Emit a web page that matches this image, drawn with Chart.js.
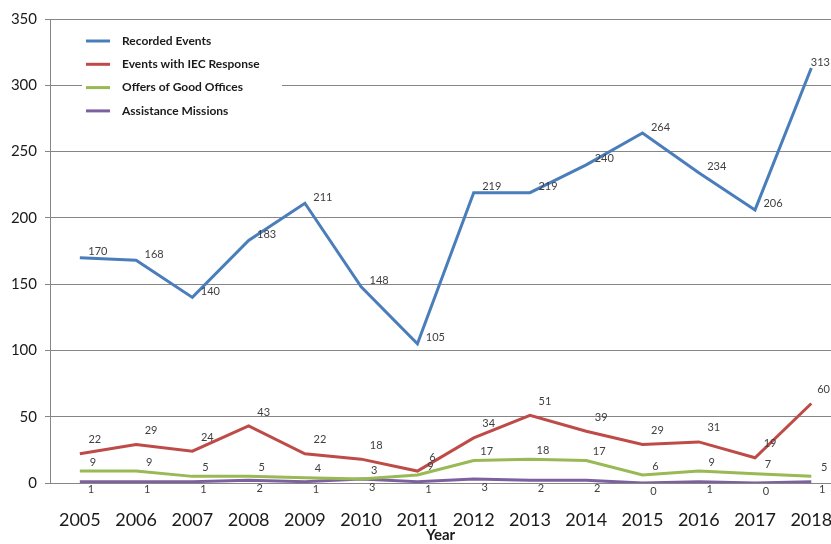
<!DOCTYPE html>
<html>
<head>
<meta charset="utf-8">
<script src="https://cdn.jsdelivr.net/npm/chart.js@4.4.1/dist/chart.umd.min.js"></script>
<style>
  html, body { margin: 0; padding: 0; background: #fff; }
  #wrap { width: 831px; height: 544px; }
</style>
</head>
<body>
<div id="wrap"><canvas id="eventsChart"></canvas></div>
<script>
// Dados do gráfico
const years = [2005, 2006, 2007, 2008, 2009, 2010, 2011, 2012, 2013, 2014, 2015, 2016, 2017, 2018];
const recorded = [170, 168, 140, 183, 211, 148, 105, 219, 219, 240, 264, 234, 206, 313];
const iecResponse = [22, 29, 24, 43, 22, 18, 9, 34, 51, 39, 29, 31, 19, 60];
const goodOffices = [9, 9, 5, 5, 4, 3, 6, 17, 18, 17, 6, 9, 7, 5];
const assistance = [1, 1, 1, 2, 1, 3, 1, 3, 2, 2, 0, 1, 0, 1];
// rótulos impressos (em 2011 o original troca os dois)
const iecLabels = ['22', '29', '24', '43', '22', '18', '6', '34', '51', '39', '29', '31', '19', '60'];
const goodOfficesLabels = ['9', '9', '5', '5', '4', '3', '9', '17', '18', '17', '6', '9', '7', '5'];
const yTicks = [0, 50, 100, 150, 200, 250, 300, 350];

const FONT = 'Lato, "Liberation Sans", sans-serif';

function pts(vals) {
    return vals.map((v, i) => ({ x: years[i], y: v }));
}

// rótulos de valor junto a cada ponto
const valueLabels = {
    id: 'valueLabels',
    afterDatasetsDraw(chart) {
        const c = chart.ctx;
        c.save();
        c.font = '11px ' + FONT;
        c.fillStyle = '#404040';
        c.textAlign = 'center';
        c.textBaseline = 'middle';
        chart.data.datasets.forEach((ds, di) => {
            const meta = chart.getDatasetMeta(di);
            meta.data.forEach((p, i) => {
                const txt = ds.valueText ? ds.valueText[i] : String(ds.data[i].y);
                const w = c.measureText(txt).width;
                // não deixa o texto sair pela direita
                const x = Math.min(p.x + ds.labelDx, chart.width - w / 2 - 1);
                c.fillText(txt, x, p.y + ds.labelDy);
            });
        });
        c.restore();
    }
};

// legenda dentro da área do gráfico, com fundo branco
const boxLegend = {
    id: 'boxLegend',
    afterDraw(chart) {
        const c = chart.ctx;
        c.save();
        c.fillStyle = '#fff';
        c.fillRect(82, 27, 200, 98);
        c.font = 'bold 12px ' + FONT;
        c.textBaseline = 'middle';
        chart.data.datasets.forEach((ds, i) => {
            const y = 41 + i * 23.3;
            c.strokeStyle = ds.borderColor;
            c.lineWidth = 3;
            c.beginPath();
            c.moveTo(86, y);
            c.lineTo(110, y);
            c.stroke();
            c.fillStyle = '#1a1a1a';
            c.fillText(ds.label, 122, y);
        });
        c.restore();
    }
};

const ctx = document.getElementById('eventsChart').getContext('2d');
const eventsChart = new Chart(ctx, {
    type: 'line',
    data: {
        datasets: [{
            label: 'Recorded Events',
            data: pts(recorded),
            borderColor: '#4a7ebb',
            labelDx: 18, labelDy: -6
        }, {
            label: 'Events with IEC Response',
            data: pts(iecResponse),
            borderColor: '#be4b48',
            valueText: iecLabels,
            labelDx: 15, labelDy: -14
        }, {
            label: 'Offers of Good Offices',
            data: pts(goodOffices),
            borderColor: '#98b954',
            valueText: goodOfficesLabels,
            labelDx: 13, labelDy: -9
        }, {
            label: 'Assistance Missions',
            data: pts(assistance),
            borderColor: '#7d60a0',
            labelDx: 11, labelDy: 8
        }]
    },
    options: {
        responsive: true,
        maintainAspectRatio: false,
        animation: false,
        elements: {
            line: { borderWidth: 3, tension: 0, fill: false },
            point: { radius: 0 }
        },
        layout: { padding: { top: 19, right: 0, left: 0, bottom: 0 } },
        plugins: {
            legend: { display: false },
            tooltip: { enabled: false }
        },
        scales: {
            x: {
                type: 'linear',
                min: 2004.47,
                max: 2018.35,
                afterFit: s => { s.height = 61; s.paddingLeft = 0; s.paddingRight = 0; },
                grid: { display: false, drawTicks: false },
                border: { display: false },
                ticks: {
                    stepSize: 1,
                    includeBounds: false,
                    autoSkip: false,
                    maxRotation: 0,
                    padding: 26,
                    color: '#1a1a1a',
                    font: { family: FONT, size: 18 },
                    callback: v => years.includes(v) ? String(v) : ''
                },
                title: {
                    display: true,
                    text: 'Year',
                    color: '#1a1a1a',
                    font: { family: FONT, size: 15, weight: 'bold' },
                    padding: { top: 0, bottom: 0 }
                }
            },
            y: {
                min: 0,
                max: 350,
                afterFit: s => { s.width = 50; },
                afterBuildTicks: s => { s.ticks = yTicks.map(v => ({ value: v })); },
                grid: { color: '#868686', lineWidth: 1, tickLength: 5 },
                border: { color: '#868686', width: 1 },
                ticks: {
                    padding: 8,
                    color: '#1a1a1a',
                    font: { family: FONT, size: 15 }
                }
            }
        }
    },
    plugins: [valueLabels, boxLegend]
});
</script>
</body>
</html>
